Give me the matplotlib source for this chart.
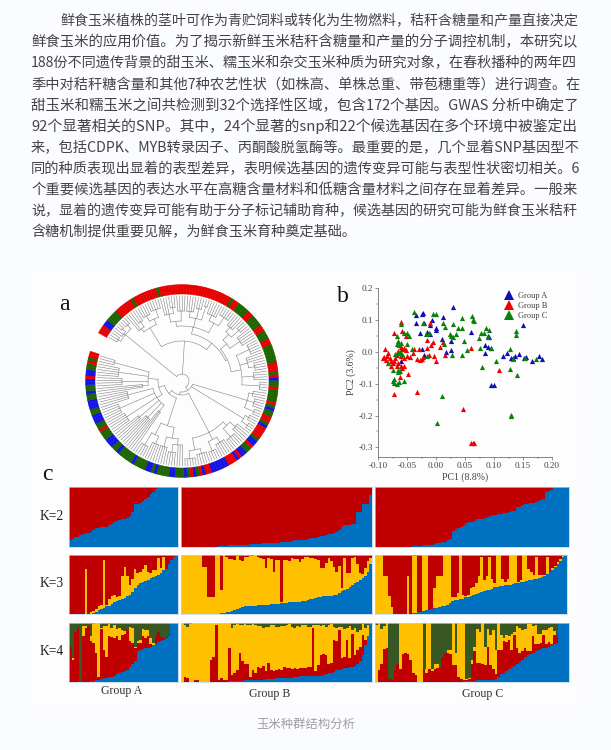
import numpy as np
import matplotlib
matplotlib.use("Agg")
import matplotlib.pyplot as plt
from matplotlib.lines import Line2D
from matplotlib.patches import Rectangle

W, H = 611, 750

paragraph = [
    "鲜食玉米植株的茎叶可作为青贮饲料或转化为生物燃料，秸秆含糖量和产量直接决定",
    "鲜食玉米的应用价值。为了揭示新鲜玉米秸秆含糖量和产量的分子调控机制，本研究以",
    "188份不同遗传背景的甜玉米、糯玉米和杂交玉米种质为研究对象，在春秋播种的两年四",
    "季中对秸秆糖含量和其他7种农艺性状（如株高、单株总重、带苞穗重等）进行调查。在",
    "甜玉米和糯玉米之间共检测到32个选择性区域，包含172个基因。GWAS 分析中确定了",
    "92个显著相关的SNP。其中，24个显著的snp和22个候选基因在多个环境中被鉴定出",
    "来，包括CDPK、MYB转录因子、丙酮酸脱氢酶等。最重要的是，几个显着SNP基因型不",
    "同的种质表现出显着的表型差异，表明候选基因的遗传变异可能与表型性状密切相关。6",
    "个重要候选基因的表达水平在高糖含量材料和低糖含量材料之间存在显着差异。一般来",
    "说，显着的遗传变异可能有助于分子标记辅助育种，候选基因的研究可能为鲜食玉米秸秆",
    "含糖机制提供重要见解，为鲜食玉米育种奠定基础。",
]
caption = "玉米种群结构分析"

# ring around the tree, clockwise from the gap: letter and number of samples
ring_runs = [
    ("R", 3), ("B", 2), ("G", 4), ("R", 6), ("G", 1), ("R", 8), ("G", 1), ("R", 24), ("G", 1), ("R", 2), ("G", 4),
    ("R", 2), ("G", 4), ("R", 2), ("G", 3), ("R", 2), ("G", 6), ("R", 3), ("G", 1), ("R", 1), ("B", 1), ("G", 2),
    ("R", 1), ("G", 4), ("R", 1), ("G", 1), ("B", 1), ("G", 2), ("R", 2), ("G", 1), ("B", 1), ("R", 4), ("G", 1),
    ("B", 2), ("R", 1), ("G", 2), ("B", 2), ("R", 1), ("B", 1), ("R", 3), ("B", 6), ("R", 2), ("B", 1), ("R", 1),
    ("G", 1), ("B", 1), ("R", 1), ("G", 1), ("B", 1), ("G", 3), ("B", 2), ("G", 4), ("B", 1), ("G", 1), ("B", 2),
    ("G", 4), ("B", 1), ("G", 5), ("B", 1), ("G", 2), ("B", 3), ("G", 3), ("R", 1), ("G", 2), ("B", 3), ("G", 2),
    ("B", 3), ("G", 2), ("B", 1), ("G", 2), ("B", 2), ("R", 1), ("B", 2), ("G", 2), ("R", 1), ("G", 1), ("R", 2),
]

# tree: (node radius, children...), an int child is that many leaves
c1 = (73, (76, 3), (75, 2, (79, 2)), (78, 3))
c2 = (62, (66, 2, (72, 3)), (68, (74, 4), (76, 5)))
c3 = (55, (60, (68, 3, (74, 3)), (70, 4)), (64, (70, 4), (74, 3), (78, 2)), (66, (72, 5), (76, 5)))
c4 = (50, (58, (66, (72, 4), (76, 3)), (70, 5)), (60, (66, (74, 5)), (68, 3, (74, 4)), (72, 4), (78, 4)))
c5 = (68, (72, 3), (75, 4), (78, 3))
c6 = (72, (76, 3), (79, 3))
c7 = (58, (63, (70, 4), (74, 5)), (66, (72, 5), (76, 4)), (70, (75, 5), (78, 5)))
c8 = (47, (58, (64, 3, (72, 4)), (68, 4)), (60, (68, 4), (74, 4)))
c9 = (30, (38, 3), (42, (50, 4)), (44, (56, 3)), (46, (60, (66, 5))), (50, (68, 5)), (56, 5))
c10 = (34, (40, 3), (46, (60, 4)), (52, (64, 5)), (58, (70, 3)))
tree = (7, c1, (40, c2, (48, c3, c4)), (11, c5, c6, (14, c7, (18, c8, (24, c9, c10)))))

# PCA
a_x = [0.030, -0.035, -0.025, -0.022, 0.012, -0.035, -0.020, -0.010, -0.007, 0.000, 0.000, -0.028, -0.015, -0.010,
       0.010, 0.025, 0.060, 0.090, 0.092, 0.085, 0.090, 0.095, 0.085, 0.018, 0.025, -0.020, -0.025, -0.060, 0.115,
       0.122, 0.133, 0.136, 0.143, 0.152, 0.155, 0.166, 0.178, 0.182, 0.095, 0.100, 0.150, 0.130]
a_y = [0.140, 0.115, 0.120, 0.122, 0.110, 0.090, 0.090, 0.085, 0.100, 0.075, 0.068, 0.060, 0.062, 0.055,
       0.040, 0.035, 0.062, 0.050, 0.045, 0.022, 0.015, 0.012, -0.005, -0.002, 0.005, -0.010, 0.010, -0.030, -0.012,
       -0.003, -0.018, -0.012, -0.006, -0.018, -0.015, -0.030, -0.014, -0.022, -0.105, -0.104, 0.085, -0.020]
b_x = [-0.088, -0.090, -0.092, -0.087, -0.085, -0.082, -0.080, -0.078, -0.075, -0.078, -0.072, -0.070, -0.068, -0.072,
       -0.065, -0.062, -0.060, -0.058, -0.055, -0.052, -0.050, -0.055, -0.060, -0.065, -0.068, -0.060, -0.058, -0.055,
       -0.062, -0.048, -0.072, -0.032, -0.045, -0.040, -0.038, -0.033, -0.030, -0.028, -0.025, -0.022, -0.016, -0.015,
       -0.012, -0.010, -0.008, -0.005, -0.004, 0.000, 0.007, 0.012, 0.015, 0.047, 0.060, 0.063, 0.065, 0.060, 0.108,
       -0.060, -0.052, -0.058]
b_y = [0.008, -0.015, -0.020, -0.025, -0.012, -0.005, -0.018, -0.028, -0.035, -0.045, -0.030, -0.020, -0.010, 0.060,
       0.003, -0.005, 0.015, 0.008, 0.012, 0.005, -0.012, -0.020, -0.012, -0.035, -0.045, -0.045, -0.050, -0.045,
       -0.080, -0.070, -0.132, -0.127, -0.015, -0.005, 0.010, -0.022, 0.008, -0.025, -0.022, -0.015, 0.012, 0.038,
       -0.010, 0.090, 0.020, 0.030, -0.012, -0.030, 0.015, 0.030, -0.010, -0.178, -0.285, -0.285, -0.285, 0.013, -0.057,
       0.092, 0.050, 0.065]
c_x = [-0.038, -0.005, 0.000, 0.045, 0.062, 0.063, 0.066, 0.012, 0.015, 0.030, 0.038, 0.044, -0.060, -0.022, -0.018,
       -0.012, 0.024, 0.026, 0.034, 0.030, 0.048, 0.078, 0.086, 0.092, 0.090, 0.074, 0.083, 0.138, 0.138, 0.128, 0.133,
       0.154, 0.172, 0.128, 0.139, 0.103, 0.080, 0.094, 0.075, 0.053, 0.044, 0.027, -0.015, 0.014, -0.067, -0.065,
       -0.067, -0.063, -0.060, -0.055, -0.050, -0.047, -0.050, -0.042, -0.070, -0.065, -0.062, -0.058, -0.083, -0.075,
       -0.066, -0.065, -0.062, -0.075, -0.072, -0.073, -0.068, -0.063, -0.055, 0.011, 0.001, 0.129, 0.130]
c_y = [0.125, 0.118, 0.118, 0.106, 0.113, 0.100, 0.098, 0.090, 0.078, 0.088, 0.075, 0.075, 0.088, 0.090, 0.055,
       0.060, 0.055, 0.048, 0.055, 0.045, 0.035, 0.060, 0.075, 0.068, 0.045, 0.042, 0.060, 0.065, 0.052, 0.008, -0.022,
       -0.018, -0.022, -0.055, -0.072, -0.030, -0.047, 0.012, 0.012, 0.004, -0.010, -0.010, -0.012, 0.025, 0.048, 0.035,
       0.025, 0.020, 0.028, 0.060, 0.060, 0.048, 0.025, 0.008, -0.008, -0.005, -0.002, -0.008, -0.035, -0.058,
       -0.058, -0.065, -0.060, -0.092, -0.085, -0.098, -0.100, -0.095, -0.093, -0.138, -0.224, -0.200, -0.198]
group_names = ["Group A", "Group B", "Group C"]

# structure plots, % from the bottom of each bar, tops are cumulative
k2_a = [11, 14, 17, 17, 20, 22, 23, 24, 25, 29,
        31, 32, 33, 33, 34, 36, 38, 41, 43, 45,
        46, 47, 48, 52, 58, 71, 72, 74, 77, 80,
        84, 88, 91, 96, 99, 100, 100, 100, 100, 100,
        100, 100]
k2_b = [0, 0, 0, 0, 0, 0, 0, 0, 0, 0,
        0, 0, 0, 0, 1, 1, 2, 2, 3, 3,
        3, 3, 4, 4, 4, 4, 5, 5, 5, 5,
        5, 6, 6, 6, 6, 7, 7, 7, 8, 8,
        9, 9, 10, 11, 11, 11, 12, 12, 13, 15,
        15, 15, 16, 18, 19, 20, 21, 22, 24, 25,
        29, 34, 36, 36, 37, 38, 39, 58, 58, 72,
        72, 72, 86]
k2_c = [0, 0, 0, 0, 0, 0, 0, 0, 0, 0,
        0, 0, 0, 0, 1, 1, 1, 2, 3, 3,
        4, 4, 5, 6, 7, 8, 9, 11, 14, 27,
        30, 32, 34, 37, 40, 41, 42, 44, 46, 46,
        47, 49, 50, 52, 54, 54, 55, 55, 56, 57,
        58, 60, 60, 66, 67, 70, 71, 72, 73, 74,
        75, 77, 78, 80, 91, 93, 95, 100, 100, 100,
        100, 100, 100]

k3_a_blue = [0, 0, 0, 0, 0, 0, 0, 0, 0, 1,
             3, 7, 9, 11, 13, 14, 17, 20, 22, 23,
             25, 27, 30, 33, 38, 44, 50, 52, 54, 56,
             58, 61, 63, 65, 66, 70, 74, 77, 84, 92,
             96, 100]
k3_a_yellow = [0, 0, 0, 0, 0, 0, 77, 0, 4, 5,
               9, 14, 15, 91, 16, 26, 30, 32, 29, 30,
               64, 80, 64, 50, 60, 76, 69, 71, 76, 83,
               72, 69, 75, 75, 95, 78, 97, 77, 84, 92,
               96, 100]
k3_b_blue = [0, 0, 0, 0, 0, 0, 0, 0, 0, 0,
             0, 0, 0, 0, 0, 1, 2, 3, 4, 5,
             6, 8, 10, 12, 13, 13, 14, 14, 14, 15,
             15, 15, 16, 16, 17, 17, 17, 17, 18, 18,
             19, 20, 20, 21, 21, 21, 22, 22, 24, 25,
             26, 27, 28, 29, 30, 30, 31, 31, 32, 33,
             35, 39, 41, 43, 46, 49, 52, 55, 58, 61,
             65, 72, 84]
k3_b_yellow = [100, 100, 100, 100, 100, 100, 100, 100, 80, 80,
               28, 28, 28, 100, 100, 41, 100, 96, 93, 93,
               92, 98, 92, 90, 96, 96, 98, 98, 100, 96,
               95, 93, 78, 95, 93, 72, 92, 92, 20, 92,
               92, 90, 95, 93, 94, 88, 94, 96, 97, 95,
               95, 94, 92, 78, 78, 86, 95, 90, 80, 72,
               82, 44, 95, 70, 70, 95, 96, 85, 70, 68,
               78, 90, 95]
k3_c_blue = [0, 0, 0, 0, 0, 0, 0, 0, 0, 0,
             0, 0, 0, 0, 1, 2, 3, 4, 5, 6,
             7, 8, 10, 11, 12, 13, 14, 16, 19, 22,
             23, 24, 25, 26, 28, 29, 30, 32, 34, 36,
             38, 39, 40, 41, 43, 45, 46, 47, 47, 49,
             50, 50, 51, 52, 53, 54, 55, 56, 57, 58,
             59, 60, 61, 63, 65, 67, 71, 75, 79, 84,
             90, 97, 100]
k3_c_yellow = [100, 100, 100, 65, 64, 30, 12, 0, 0, 0,
               0, 0, 64, 0, 98, 98, 3, 4, 100, 100,
               6, 8, 44, 64, 64, 64, 100, 100, 100, 28,
               28, 36, 100, 33, 30, 32, 44, 46, 52, 64,
               96, 58, 64, 96, 60, 52, 100, 100, 60, 55,
               60, 100, 100, 100, 55, 58, 100, 100, 76, 72,
               66, 96, 66, 66, 66, 96, 72, 78, 82, 88,
               93, 98, 100]

k4_a_blue = [0, 0, 0, 0, 0, 0, 0, 0, 1, 2,
             3, 4, 5, 6, 7, 8, 9, 11, 13, 15,
             17, 19, 21, 26, 31, 35, 53, 55, 56, 57,
             58, 60, 63, 65, 67, 69, 71, 74, 78, 100,
             100, 100]
k4_a_red = [60, 38, 84, 92, 0, 78, 92, 95, 70, 66,
            50, 8, 90, 55, 42, 78, 76, 74, 78, 72,
            80, 82, 88, 70, 66, 58, 66, 66, 78, 74,
            78, 64, 62, 78, 84, 76, 74, 76, 80, 100,
            100, 100]
k4_a_yellow = [60, 40, 84, 92, 0, 95, 95, 95, 78, 98,
               100, 100, 92, 95, 95, 98, 92, 96, 90, 92,
               88, 86, 88, 94, 92, 60, 70, 72, 90, 88,
               88, 74, 66, 78, 84, 76, 74, 76, 80, 100,
               100, 100]
k4_b_blue = [0, 0, 0, 0, 0, 0, 0, 0, 0, 0,
             0, 0, 0, 0, 0, 0, 0, 0, 1, 1,
             2, 2, 2, 2, 3, 3, 3, 4, 4, 4,
             4, 4, 5, 5, 5, 5, 6, 6, 6, 6,
             6, 7, 7, 8, 9, 10, 10, 10, 10, 10,
             11, 11, 11, 11, 12, 13, 15, 16, 17, 20,
             21, 22, 23, 24, 25, 26, 27, 30, 35, 45,
             63, 78, 98]
k4_b_red = [0, 8, 7, 0, 0, 3, 3, 0, 0, 0,
            0, 37, 42, 97, 3, 6, 3, 4, 58, 12,
            16, 20, 50, 35, 30, 30, 8, 20, 15, 25,
            24, 27, 18, 32, 20, 18, 20, 22, 20, 26,
            24, 24, 22, 24, 22, 24, 24, 24, 25, 25,
            91, 18, 28, 46, 48, 45, 30, 33, 72, 70,
            88, 40, 42, 72, 40, 82, 45, 55, 60, 80,
            72, 78, 98]
k4_b_yellow = [100, 96, 94, 98, 100, 100, 100, 100, 100, 100,
               100, 100, 100, 100, 100, 100, 100, 100, 100, 92,
               96, 98, 97, 96, 98, 97, 97, 98, 96, 95,
               95, 92, 94, 94, 96, 97, 93, 93, 95, 95,
               96, 98, 94, 92, 95, 94, 96, 96, 94, 94,
               97, 96, 97, 95, 96, 94, 96, 98, 93, 92,
               94, 94, 90, 92, 95, 88, 92, 84, 88, 98,
               92, 96, 98]
k4_c_blue = [0, 0, 0, 0, 0, 0, 0, 0, 0, 0,
             0, 0, 0, 0, 0, 0, 0, 0, 0, 0,
             0, 0, 0, 0, 0, 0, 0, 0, 0, 0,
             0, 0, 0, 1, 1, 2, 2, 2, 3, 3,
             3, 3, 3, 4, 4, 5, 8, 13, 16, 18,
             22, 25, 27, 31, 34, 37, 42, 46, 47, 50,
             52, 54, 56, 57, 58, 60, 62, 64, 66, 100,
             100, 100, 100]
k4_c_red = [0, 20, 30, 56, 58, 5, 3, 20, 30, 22,
            48, 50, 48, 38, 15, 12, 0, 0, 22, 15,
            22, 18, 22, 24, 24, 42, 50, 50, 48, 28,
            28, 8, 5, 4, 4, 5, 30, 52, 32, 32,
            30, 28, 60, 28, 22, 14, 55, 55, 70, 68,
            72, 55, 80, 58, 50, 52, 58, 52, 53, 78,
            65, 64, 66, 80, 64, 68, 64, 80, 78, 100,
            100, 100, 100]
k4_c_yellow = [96, 100, 90, 95, 100, 5, 3, 20, 30, 100,
               100, 100, 100, 100, 100, 100, 100, 100, 22, 100,
               100, 22, 30, 30, 24, 42, 50, 55, 55, 100,
               50, 100, 100, 100, 5, 6, 38, 60, 90, 85,
               100, 60, 90, 80, 88, 55, 100, 80, 75, 80,
               78, 82, 85, 95, 92, 88, 90, 98, 98, 95,
               96, 82, 82, 88, 88, 92, 94, 86, 78, 100,
               100, 100, 100]

BLUE, RED, YELLOW, GREEN = "#0070C0", "#C00000", "#FFC000", "#385723"
SERIF = "Liberation Serif"
CJK = ["Noto Sans CJK SC", "DejaVu Sans"]


def px_axes(left, top, right, bottom, **kw):
    return fig.add_axes([left / W, 1 - bottom / H, (right - left) / W, (bottom - top) / H], **kw)


fig = plt.figure(figsize=(W / 100, H / 100), dpi=100, facecolor="#FBFCFF")
bg = px_axes(0, 0, W, H)
bg.set_xlim(0, W)
bg.set_ylim(H, 0)
bg.axis("off")
bg.add_patch(Rectangle((32, 272), 549, 433, color="#FDFDFD", lw=0))

# paragraph, each line fitted to the text block width
renderer = fig.canvas.get_renderer()
for i, line in enumerate(paragraph):
    left = 60 if i == 0 else 31
    t = bg.text(left, 21 + i * 21.1, line, family=CJK, fontsize=10.2, color="#444444", va="center", ha="left")
    if i < len(paragraph) - 1:
        w = t.get_window_extent(renderer).width
        t.set_fontsize(10.2 * (577 - left) / w)
bg.text(306, 724, caption, family=CJK, fontsize=8.9, color="#a0a0a0", ha="center", va="center")

bg.text(64, 304, "a", family=SERIF, fontsize=17, color="#111111", ha="center", va="center")
bg.text(343, 297, "b", family=SERIF, fontsize=17, color="#111111", ha="center", va="center")
bg.text(47, 475, "c", family=SERIF, fontsize=17, color="#111111", ha="center", va="center")

# a: circular tree
cx, cy, R = 182, 381, 97
ax_a = px_axes(cx - R, cy - R, cx + R, cy + R, projection="polar")
ax_a.set_ylim(0, R)
ax_a.axis("off")
ax_a.patch.set_alpha(0)

ring = []
for g, n in ring_runs:
    ring += [g] * n
step = np.radians(348 / len(ring))
start = np.radians(150)
theta = start - (np.arange(len(ring)) + 0.5) * step
ring_colors = {"R": "#E80000", "G": "#1E6400", "B": "#1414E6"}
seg_colors = [ring_colors[g] for g in ring]
ax_a.bar(theta, 9.5, width=step, bottom=87, color=seg_colors, edgecolor=seg_colors, lw=0.3)

leaf_no = 0


def draw_node(node, parent_r):
    global leaf_no
    r = node[0]
    angles = []
    for child in node[1:]:
        if isinstance(child, int):
            for _ in range(child):
                th = theta[leaf_no]
                leaf_no += 1
                ax_a.plot([th, th], [r, 85], color="#808080", lw=0.4)
                angles.append(th)
        else:
            angles.append(draw_node(child, r))
    arc = np.linspace(angles[0], angles[-1], 40)
    ax_a.plot(arc, np.full(40, r), color="#808080", lw=0.4)
    mid = (angles[0] + angles[-1]) / 2
    if parent_r is not None:
        ax_a.plot([mid, mid], [parent_r, r], color="#808080", lw=0.4)
    return mid


draw_node(tree, None)

# b: PCA
ax_b = px_axes(378, 288, 552, 457)
ax_b.patch.set_alpha(0)
ax_b.scatter(a_x, a_y, marker="^", s=14, color="#1010B0", lw=0)
ax_b.scatter(b_x, b_y, marker="^", s=14, color="#F00000", lw=0)
ax_b.scatter(c_x, c_y, marker="^", s=14, color="#0A820A", lw=0)
ax_b.set_xlim(-0.10, 0.20)
ax_b.set_ylim(-0.33, 0.20)
for side in ["top", "right"]:
    ax_b.spines[side].set_visible(False)
for side in ["left", "bottom"]:
    ax_b.spines[side].set_linewidth(0.5)
    ax_b.spines[side].set_color("#555555")
ax_b.set_xticks([-0.10, -0.05, 0.0, 0.05, 0.10, 0.15, 0.20])
ax_b.set_xticklabels(["-0.10", "-0.05", "0.00", "0.05", "0.10", "0.15", "0.20"])
ax_b.set_yticks([-0.3, -0.2, -0.1, 0.0, 0.1, 0.2])
ax_b.set_yticklabels(["-0.3", "-0.2", "-0.1", "0.0", "0.1", "0.2"])
ax_b.set_yticks([-0.25, -0.15, -0.05, 0.05, 0.15], minor=True)
ax_b.set_xticks([-0.075, -0.025, 0.025, 0.075, 0.125, 0.175], minor=True)
ax_b.tick_params(which="major", labelsize=6.6, length=2, width=0.4, pad=1.5, colors="#444444")
ax_b.tick_params(which="minor", length=1.2, width=0.3, colors="#444444")
for lab in ax_b.get_xticklabels() + ax_b.get_yticklabels():
    lab.set_family(SERIF)
ax_b.set_xlabel("PC1 (8.8%)", family=SERIF, fontsize=7, color="#444444", labelpad=2)
ax_b.set_ylabel("PC2 (3.6%)", family=SERIF, fontsize=7, color="#444444", labelpad=2)
handles = [Line2D([], [], marker="^", ls="", color=c, ms=7.2, mew=0) for c in ["#1010B0", "#F00000", "#0A820A"]]
ax_b.legend(handles, group_names, loc="upper right", bbox_to_anchor=(1.0, 1.0), frameon=False, labelspacing=0.24,
            handletextpad=0.1, borderpad=0, prop={"family": SERIF, "size": 6}, labelcolor="#444444")

# c: structure plots
x_spans = [(69, 178), (181, 372), (375, 569)]
rows = [
    ("K=2", 487, 547, [(k2_a,), (k2_b,), (k2_c,)]),
    ("K=3", 555, 614, [(k3_a_blue, k3_a_yellow), (k3_b_blue, k3_b_yellow), (k3_c_blue, k3_c_yellow)]),
    ("K=4", 623, 682, [(k4_a_blue, k4_a_red, k4_a_yellow), (k4_b_blue, k4_b_red, k4_b_yellow),
                       (k4_c_blue, k4_c_red, k4_c_yellow)]),
]
for label, top, bottom, groups in rows:
    bg.text(52, (top + bottom) / 2 - 1, label, family=SERIF, fontsize=9.8, color="#222222", ha="center", va="center")
    for (x0, x1), values in zip(x_spans, groups):
        if label == "K=3" and x1 == 569:
            x1 = 567
        ax = px_axes(x0, top, x1, bottom)
        blue = np.array(values[0], dtype=float)
        n = len(blue)
        x = np.arange(n)
        full = np.full(n, 100.0)
        if label == "K=2":
            stack = [(blue, BLUE), (full, RED)]
        elif label == "K=3":
            yellow = np.maximum(values[1], blue)
            stack = [(blue, BLUE), (yellow, YELLOW), (full, RED)]
        else:
            red = np.maximum(values[1], blue)
            yellow = np.maximum(values[2], red)
            stack = [(blue, BLUE), (red, RED), (yellow, YELLOW), (full, GREEN)]
        low = np.zeros(n)
        for tops, col in stack:
            ax.bar(x, tops - low, bottom=low, width=1.04, color=col, lw=0)
            low = tops
        ax.set_xlim(-0.5, n - 0.5)
        ax.set_ylim(0, 100)
        ax.set_xticks([])
        ax.set_yticks([])
        for s in ax.spines.values():
            s.set_color("#BBD3EA")
            s.set_linewidth(0.5)

for name, gx, gy in zip(group_names, [122, 270, 483], [691, 694, 694]):
    bg.text(gx, gy, name, family=SERIF, fontsize=8.6, color="#333333", ha="center", va="center")

fig.savefig("out.png", dpi=100, facecolor=fig.get_facecolor())
